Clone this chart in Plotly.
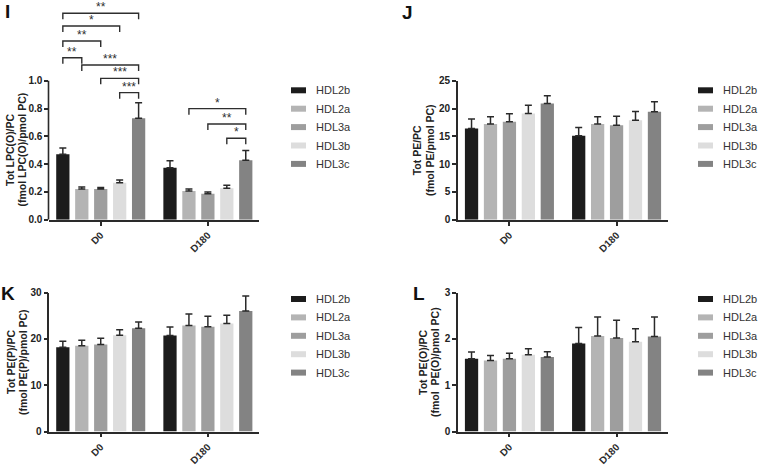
import plotly.graph_objects as go

# ---------------- data ----------------
GROUPS = ["D0", "D180"]
SERIES = ["HDL2b", "HDL2a", "HDL3a", "HDL3b", "HDL3c"]

I_MEAN = [[0.47, 0.374], [0.22, 0.206], [0.22, 0.187], [0.266, 0.226], [0.73, 0.427]]
I_ERR = [[0.045, 0.05], [0.015, 0.015], [0.012, 0.013], [0.019, 0.021], [0.112, 0.07]]

J_MEAN = [[16.4, 15.1], [17.2, 17.2], [17.6, 17.0], [19.1, 17.9], [20.9, 19.4]]
J_ERR = [[1.7, 1.5], [1.3, 1.3], [1.45, 1.6], [1.5, 1.55], [1.4, 1.8]]

K_MEAN = [[18.2, 20.7], [18.5, 22.9], [18.8, 22.6], [20.8, 23.3], [22.3, 26.0]]
K_ERR = [[1.3, 1.85], [1.2, 2.45], [1.3, 2.25], [1.15, 1.8], [1.35, 3.25]]

L_MEAN = [[1.57, 1.90], [1.53, 2.06], [1.57, 2.02], [1.655, 1.935], [1.61, 2.05]]
L_ERR = [[0.145, 0.345], [0.11, 0.41], [0.12, 0.38], [0.13, 0.28], [0.11, 0.42]]

# significance comparisons in panel I: (group index, series a, series b, label)
I_SIG = [
    (0, 0, 4, "**"), (0, 0, 3, "*"), (0, 0, 2, "**"), (0, 0, 1, "**"),
    (0, 1, 4, "***"), (0, 2, 4, "***"), (0, 3, 4, "***"),
    (1, 1, 4, "*"), (1, 2, 4, "**"), (1, 3, 4, "*"),
]
I_SIG_LEVEL = [1.485, 1.394, 1.286, 1.165, 1.113, 1.017, 0.914, 0.799, 0.688, 0.586]

Y_TITLES = {
    "I": ("Tot LPC(O)/PC", "(fmol LPC(O)/pmol PC)"),
    "J": ("Tot PE/PC", "(fmol PE/pmol PC)"),
    "K": ("Tot PE(P)/PC", "(fmol PE(P)/pmol PC)"),
    "L": ("Tot PE(O)/PC", "(fmol  PE(O)/pmol PC)"),
}

# ---------------- style ----------------
COLORS = ["#1c1c1c", "#b4b4b4", "#9e9e9e", "#dddddd", "#838383"]
W, H = 758, 466
FONT = "Arial, Liberation Sans, sans-serif"
AX = "#2a2a2a"
TXT = "#2b2b2b"
BARGAP = 0.116
GROUPGAP = 0.3


def px(x):
    return x / W


def py(y):
    return 1 - y / H


fig = go.Figure()

panels = [
    ("I", I_MEAN, I_ERR, "", (49.3, 259.3), (219.7, 0.0), [0, 1.0 * 219.7 / 139.0],
     [0, 0.2, 0.4, 0.6, 0.8, 1.0], ["0.0", "0.2", "0.4", "0.6", "0.8", "1.0"]),
    ("J", J_MEAN, J_ERR, "2", (458, 668), (219.7, 80.7), [0, 25],
     [0, 5, 10, 15, 20, 25], None),
    ("K", K_MEAN, K_ERR, "3", (49.3, 259.3), (431.5, 292.5), [0, 30],
     [0, 10, 20, 30], None),
    ("L", L_MEAN, L_ERR, "4", (458, 668), (431.5, 292.5), [0, 3],
     [0, 1, 2, 3], None),
]

layout_axes = {}
for name, mean, err, sfx, (x0, x1), (yb, yt), yr, tv, tt in panels:
    xa = "x" + sfx
    ya = "y" + sfx
    for k, s in enumerate(SERIES):
        fig.add_trace(go.Bar(
            x=GROUPS, y=mean[k], name=s, xaxis=xa, yaxis=ya,
            marker=dict(color=COLORS[k], line=dict(width=0)),
            error_y=dict(type="data", array=err[k], arrayminus=[0] * len(GROUPS),
                         symmetric=False, color=AX, thickness=1.5, width=3.5),
            showlegend=False,
        ))
    layout_axes["xaxis" + sfx] = dict(
        domain=[px(x0), px(x1)], anchor=ya, range=[-0.48, 1.48],
        showline=True, linecolor=AX, linewidth=1.6,
        ticks="outside", ticklen=4, tickwidth=1.5, tickcolor=AX,
        tickangle=-45, tickfont=dict(family=FONT, size=10, color=TXT, weight="bold"),
        showgrid=False, zeroline=False,
    )
    ydict = dict(
        domain=[py(yb), py(yt)], anchor=xa, range=yr,
        showline=(name != "I"), linecolor=AX, linewidth=1.6,
        ticks="outside", ticklen=4, tickwidth=1.5, tickcolor=AX,
        tickmode="array", tickvals=tv,
        tickfont=dict(family=FONT, size=10, color="#222222", weight="bold"),
        showgrid=False, zeroline=False,
    )
    if tt is not None:
        ydict["ticktext"] = tt
    layout_axes["yaxis" + sfx] = ydict

fig.update_layout(**layout_axes)

shapes = []
annotations = []

# y axis line of panel I only up to 1.0
shapes.append(dict(type="line", xref="paper", yref="y", x0=px(49.3) - 0.8 / W, x1=px(49.3) - 0.8 / W,
                   y0=0, y1=1.0, line=dict(color=AX, width=1.6)))

# significance brackets in panel I
slot = (1 - BARGAP) / len(SERIES)
leg = 6.0 / 139.0
for (g, a, b, lab), lvl in zip(I_SIG, I_SIG_LEVEL):
    xa_ = g + (a - 2) * slot
    xb_ = g + (b - 2) * slot
    shapes.append(dict(type="path", xref="x", yref="y",
                       path=f"M {xa_},{lvl - leg} L {xa_},{lvl} L {xb_},{lvl} L {xb_},{lvl - leg}",
                       line=dict(color="#2e2e2e", width=1.4)))
    annotations.append(dict(x=(xa_ + xb_) / 2, y=lvl, xref="x", yref="y", text=lab,
                            showarrow=False, yanchor="bottom", yshift=-3,
                            font=dict(family=FONT, size=12, color="#2e2e2e")))

# y axis titles
title_pos = {"I": (10, 21.5, 150), "J": (417.3, 430, 150), "K": (11, 23, 362), "L": (423, 435, 362)}
for key, (l1, l2) in Y_TITLES.items():
    xa1, xa2, yc = title_pos[key]
    for t, xx in ((l1, xa1), (l2, xa2)):
        annotations.append(dict(x=px(xx), y=py(yc), xref="paper", yref="paper", text=t,
                                textangle=-90, showarrow=False, xanchor="center", yanchor="middle",
                                font=dict(family=FONT, size=10.5, color="#222222", weight="bold")))

# panel letters
for lt, (xx, yy) in {"I": (7.5, 11.5), "J": (407.5, 12.5), "K": (7.5, 293.5), "L": (419, 293)}.items():
    annotations.append(dict(x=px(xx), y=py(yy), xref="paper", yref="paper", text=lt,
                            showarrow=False, xanchor="center", yanchor="middle",
                            font=dict(family=FONT, size=19, color="#111111", weight="bold")))

# legends (one per panel)
for lx, ly in [(291, 90.3), (698, 90.3), (291, 299), (698, 299)]:
    for k, s in enumerate(SERIES):
        yc = ly + k * 18.4
        shapes.append(dict(type="rect", xref="paper", yref="paper",
                           x0=px(lx), x1=px(lx + 15), y0=py(yc + 3), y1=py(yc - 3),
                           fillcolor=COLORS[k], line=dict(width=0)))
        annotations.append(dict(x=px(lx + 23), y=py(yc), xref="paper", yref="paper", text=s,
                                showarrow=False, xanchor="left", yanchor="middle",
                                font=dict(family=FONT, size=11, color="#333333")))

fig.update_layout(
    template="none",
    width=W, height=H, margin=dict(l=0, r=0, t=0, b=0),
    paper_bgcolor="white", plot_bgcolor="white",
    barmode="group", bargap=BARGAP, bargroupgap=GROUPGAP,
    shapes=shapes, annotations=annotations, showlegend=False,
)

fig.write_html("out.html", config={"displayModeBar": False},
               post_script="document.body.style.margin='0px';document.body.style.overflow='hidden';")
